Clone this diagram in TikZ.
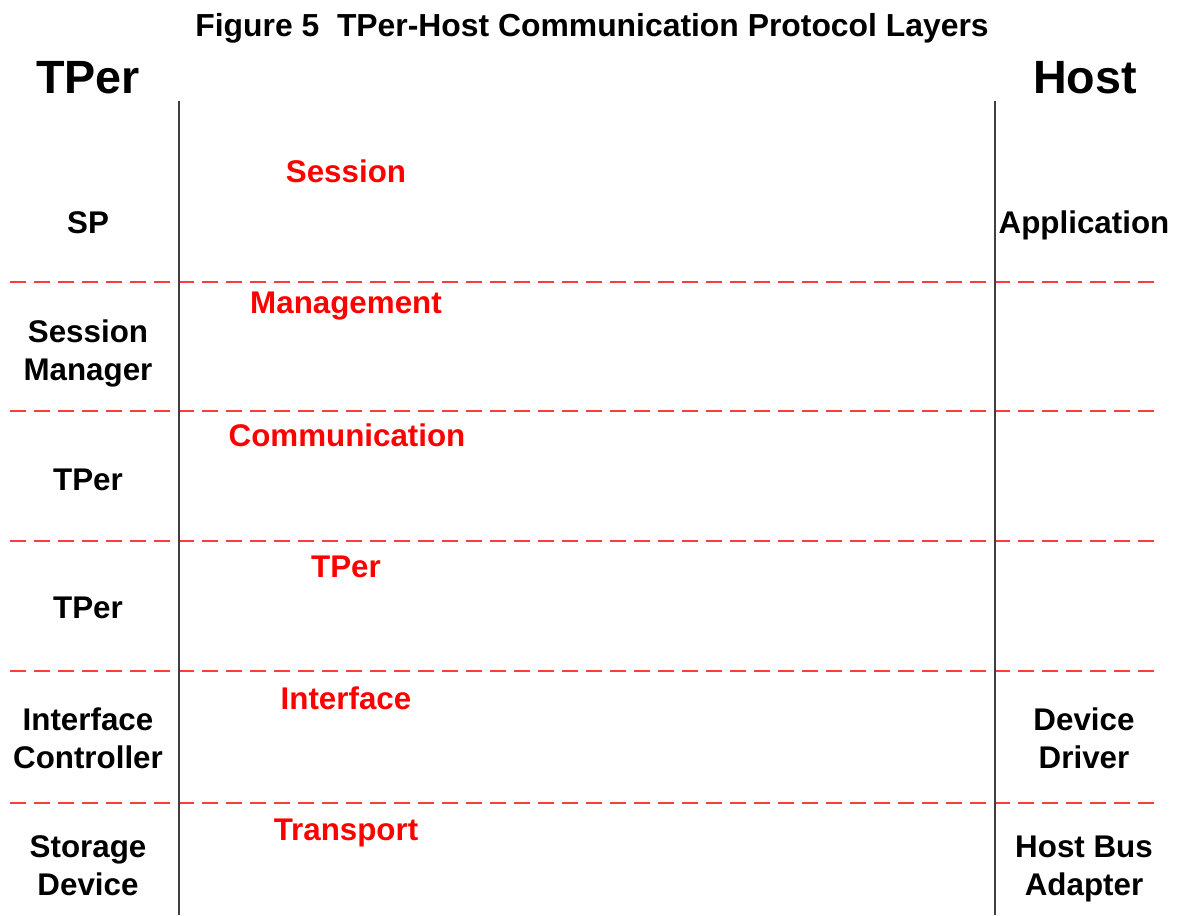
\documentclass[tikz,border=0pt]{standalone}
\usepackage{fontspec}
\setmainfont{Liberation Sans}
\begin{document}
\begin{tikzpicture}[x=0.75pt,y=-0.75pt,
  lbl/.style={anchor=base,inner sep=0pt,align=center,font=\fontsize{23.5}{28.5}\selectfont\bfseries},
  layer/.style={lbl,text=red},
  head/.style={anchor=base,inner sep=0pt,font=\fontsize{35}{40}\selectfont\bfseries},
  sep/.style={draw={rgb,255:red,255;green,60;blue,60},line width=2pt,dash pattern=on 12pt off 6pt},
  axis/.style={draw=black!75,line width=1.5pt}]
\useasboundingbox (0,0) rectangle (1181,915);
% title
\node[anchor=base,inner sep=0pt,font=\fontsize{23.9}{27}\selectfont\bfseries] (title) at (592,36) {Figure 5\ \ TPer-Host Communication Protocol Layers};
\node[head] (tper) at (88,93) {TPer};
\node[head] (host) at (1085,93) {Host};
% vertical lines
\coordinate (lt) at (179,101);
\coordinate (lb) at (179,915);
\coordinate (rt) at (995,101);
\coordinate (rb) at (995,915);
% dashed separators
\foreach \y/\n in {282/a,411/b,541/c,671/d,803/e}{
  \coordinate (s\n l) at (10,\y);
  \coordinate (s\n r) at (1156,\y);
  \draw[sep] (s\n l) -- (s\n r);
}
\draw[axis] (lt) -- (lb);
\draw[axis] (rt) -- (rb);
% left labels (anchored at the baseline of the last line)
\node[lbl] (sp) at (88,233) {SP};
\node[lbl] (sm) at (88,380) {Session\\Manager};
\node[lbl] (tp1) at (88,490) {TPer};
\node[lbl] (tp2) at (88,618) {TPer};
\node[lbl] (ic) at (88,768) {Interface\\Controller};
\node[lbl] (sd) at (88,895) {Storage\\Device};
% right labels
\node[lbl] (app) at (1084,233) {Application};
\node[lbl] (dd) at (1084,768) {Device\\Driver};
\node[lbl] (hba) at (1084,895) {Host Bus\\Adapter};
% layer labels
\node[layer] (session) at (346,182) {Session};
\node[layer] (mgmt) at (346,313) {Management};
\node[layer] (comm) at (347,446) {Communication};
\node[layer] (tperl) at (346,577) {TPer};
\node[layer] (intf) at (346,709) {Interface};
\node[layer] (trans) at (346,840) {Transport};
\end{tikzpicture}
\end{document}
